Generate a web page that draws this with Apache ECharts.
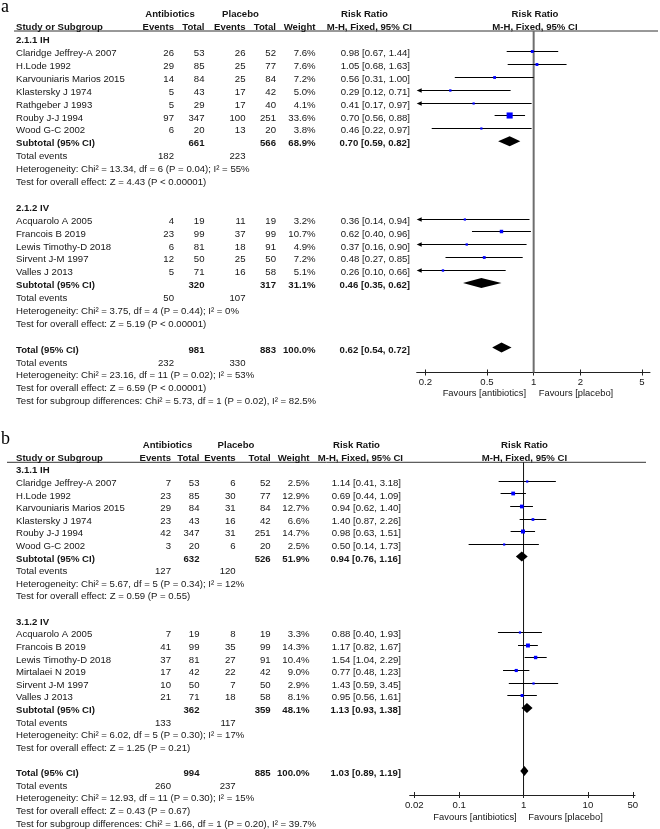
<!DOCTYPE html>
<html><head><meta charset="utf-8">
<script src="https://cdn.jsdelivr.net/npm/echarts@6/dist/echarts.min.js"></script>
<style>html,body{margin:0;padding:0;background:#fff}#c{width:660px;height:829px}</style>
</head><body><div id="c"></div>
<script>
// ================= DATA: panel a =================
const aGroupNames = ['2.1.1 IH', '2.1.2 IV'];
const a1Studies = ['Claridge Jeffrey-A 2007','H.Lode 1992','Karvouniaris Marios 2015','Klastersky J 1974','Rathgeber J 1993','Rouby J-J 1994','Wood G-C 2002'];
const a1AbxEvents = [26, 29, 14, 5, 5, 97, 6];
const a1AbxTotal  = [53, 85, 84, 43, 29, 347, 20];
const a1PlaEvents = [26, 25, 25, 17, 17, 100, 13];
const a1PlaTotal  = [52, 77, 84, 42, 40, 251, 20];
const a1Weight    = [7.6, 7.6, 7.2, 5.0, 4.1, 33.6, 3.8];
const a1RR        = [0.98, 1.05, 0.56, 0.29, 0.41, 0.70, 0.46];
const a1Low       = [0.67, 0.68, 0.31, 0.12, 0.17, 0.56, 0.22];
const a1High      = [1.44, 1.63, 1.00, 0.71, 0.97, 0.88, 0.97];

const a2Studies = ['Acquarolo A 2005','Francois B 2019','Lewis Timothy-D 2018','Sirvent J-M 1997','Valles J 2013'];
const a2AbxEvents = [4, 23, 6, 12, 5];
const a2AbxTotal  = [19, 99, 81, 50, 71];
const a2PlaEvents = [11, 37, 18, 25, 16];
const a2PlaTotal  = [19, 99, 91, 50, 58];
const a2Weight    = [3.2, 10.7, 4.9, 7.2, 5.1];
const a2RR        = [0.36, 0.62, 0.37, 0.48, 0.26];
const a2Low       = [0.14, 0.40, 0.16, 0.27, 0.10];
const a2High      = [0.94, 0.96, 0.90, 0.85, 0.66];

const aSubAbxTotal  = [661, 320];
const aSubPlaTotal  = [566, 317];
const aSubWeight    = [68.9, 31.1];
const aSubRR        = [0.70, 0.46];
const aSubLow       = [0.59, 0.35];
const aSubHigh      = [0.82, 0.62];
const aSubAbxEvents = [182, 50];
const aSubPlaEvents = [223, 107];
const aSubHet  = ['Heterogeneity: Chi² = 13.34, df = 6 (P = 0.04); I² = 55%', 'Heterogeneity: Chi² = 3.75, df = 4 (P = 0.44); I² = 0%'];
const aSubTest = ['Test for overall effect: Z = 4.43 (P < 0.00001)', 'Test for overall effect: Z = 5.19 (P < 0.00001)'];

const aTotalValues = [981, 883, 100.0, 0.62, 0.54, 0.72]; // abxTotal, plaTotal, weight, RR, low, high
const aTotalEvents = [232, 330];
const aTotalHet  = 'Heterogeneity: Chi² = 23.16, df = 11 (P = 0.02); I² = 53%';
const aTotalTest = 'Test for overall effect: Z = 6.59 (P < 0.00001)';
const aSubgroupTest = 'Test for subgroup differences: Chi² = 5.73, df = 1 (P = 0.02), I² = 82.5%';
const aTicks = [0.2, 0.5, 1, 2, 5];

// ================= DATA: panel b =================
const bGroupNames = ['3.1.1 IH', '3.1.2 IV'];
const b1Studies = ['Claridge Jeffrey-A 2007','H.Lode 1992','Karvouniaris Marios 2015','Klastersky J 1974','Rouby J-J 1994','Wood G-C 2002'];
const b1AbxEvents = [7, 23, 29, 23, 42, 3];
const b1AbxTotal  = [53, 85, 84, 43, 347, 20];
const b1PlaEvents = [6, 30, 31, 16, 31, 6];
const b1PlaTotal  = [52, 77, 84, 42, 251, 20];
const b1Weight    = [2.5, 12.9, 12.7, 6.6, 14.7, 2.5];
const b1RR        = [1.14, 0.69, 0.94, 1.40, 0.98, 0.50];
const b1Low       = [0.41, 0.44, 0.62, 0.87, 0.63, 0.14];
const b1High      = [3.18, 1.09, 1.40, 2.26, 1.51, 1.73];

const b2Studies = ['Acquarolo A 2005','Francois B 2019','Lewis Timothy-D 2018','Mirtalaei N 2019','Sirvent J-M 1997','Valles J 2013'];
const b2AbxEvents = [7, 41, 37, 17, 10, 21];
const b2AbxTotal  = [19, 99, 81, 42, 50, 71];
const b2PlaEvents = [8, 35, 27, 22, 7, 18];
const b2PlaTotal  = [19, 99, 91, 42, 50, 58];
const b2Weight    = [3.3, 14.3, 10.4, 9.0, 2.9, 8.1];
const b2RR        = [0.88, 1.17, 1.54, 0.77, 1.43, 0.95];
const b2Low       = [0.40, 0.82, 1.04, 0.48, 0.59, 0.56];
const b2High      = [1.93, 1.67, 2.29, 1.23, 3.45, 1.61];

const bSubAbxTotal  = [632, 362];
const bSubPlaTotal  = [526, 359];
const bSubWeight    = [51.9, 48.1];
const bSubRR        = [0.94, 1.13];
const bSubLow       = [0.76, 0.93];
const bSubHigh      = [1.16, 1.38];
const bSubAbxEvents = [127, 133];
const bSubPlaEvents = [120, 117];
const bSubHet  = ['Heterogeneity: Chi² = 5.67, df = 5 (P = 0.34); I² = 12%', 'Heterogeneity: Chi² = 6.02, df = 5 (P = 0.30); I² = 17%'];
const bSubTest = ['Test for overall effect: Z = 0.59 (P = 0.55)', 'Test for overall effect: Z = 1.25 (P = 0.21)'];

const bTotalValues = [994, 885, 100.0, 1.03, 0.89, 1.19];
const bTotalEvents = [260, 237];
const bTotalHet  = 'Heterogeneity: Chi² = 12.93, df = 11 (P = 0.30); I² = 15%';
const bTotalTest = 'Test for overall effect: Z = 0.43 (P = 0.67)';
const bSubgroupTest = 'Test for subgroup differences: Chi² = 1.66, df = 1 (P = 0.20), I² = 39.7%';
const bTicks = [0.02, 0.1, 1, 10, 50];

// ================= LAYOUT =================
const FS = 9.6;
const FAM = '"Liberation Sans", Arial, Helvetica, sans-serif';
const TEXT_DY = 2.5;
const TXT = '#161616';

const aLayout = {
  grid: {left: 416.7, top: 31, width: 233.3, height: 341.5},
  xMin: 0.176, xMax: 5.63, yMin: -0.55, yMax: 25.94,
  cols: {name: 16, ev1: 174, tot1: 204.5, ev2: 245.5, tot2: 276, wt: 315.5, rr: 410,
         hdrAbx: 170, hdrPla: 240.5, rrHdrL: 341, rrHdrR: 412, plotHdr: 535},
  refColor: '#6e6e6e', refWidth: 2,
  rule: [14, 658],
  favY: 393, favLeftEnd: 526, favRightStart: 538.7,
  label: 'a', labelY: 7.5
};
const bLayout = {
  grid: {left: 409.7, top: 462.3, width: 225.3, height: 332.7},
  xMin: 0.017, xMax: 54, yMin: -0.46, yMax: 25.9,
  cols: {name: 16, ev1: 171, tot1: 199.5, ev2: 235.7, tot2: 270.7, wt: 309.5, rr: 401,
         hdrAbx: 167.5, hdrPla: 236, rrHdrL: 333, rrHdrR: 403, plotHdr: 524.5},
  refColor: '#111', refWidth: 1,
  rule: [7, 646],
  favY: 817.3, favLeftEnd: 516.7, favRightStart: 528.3,
  label: 'b', labelY: 439
};

function ci(r, l, h) { return r.toFixed(2) + ' [' + l.toFixed(2) + ', ' + h.toFixed(2) + ']'; }

function buildPanel(groups, totalVals, totalEv, totalHet, totalTest, subgroupTest, C) {
  const texts = [], studies = [], diamonds = [];
  const push = (row, x, text, align, bold) => texts.push({row, x, text: String(text), align, bold});
  push(-2, C.hdrAbx, 'Antibiotics', 'center', true);
  push(-2, C.hdrPla, 'Placebo', 'center', true);
  push(-2, C.rrHdrL, 'Risk Ratio', 'left', true);
  push(-2, C.plotHdr, 'Risk Ratio', 'center', true);
  push(-1, C.name, 'Study or Subgroup', 'left', true);
  push(-1, C.ev1, 'Events', 'right', true);
  push(-1, C.tot1, 'Total', 'right', true);
  push(-1, C.ev2, 'Events', 'right', true);
  push(-1, C.tot2, 'Total', 'right', true);
  push(-1, C.wt, 'Weight', 'right', true);
  push(-1, C.rrHdrR, 'M-H, Fixed, 95% CI', 'right', true);
  push(-1, C.plotHdr, 'M-H, Fixed, 95% CI', 'center', true);
  let r = 0;
  groups.forEach(g => {
    push(r, C.name, g.name, 'left', true);
    g.studies.forEach((s, i) => {
      const row = r + 1 + i;
      push(row, C.name, s, 'left', false);
      push(row, C.ev1, g.abxE[i], 'right', false);
      push(row, C.tot1, g.abxT[i], 'right', false);
      push(row, C.ev2, g.plaE[i], 'right', false);
      push(row, C.tot2, g.plaT[i], 'right', false);
      push(row, C.wt, g.w[i].toFixed(1) + '%', 'right', false);
      push(row, C.rr, ci(g.rr[i], g.lo[i], g.hi[i]), 'right', false);
      studies.push([g.rr[i], row, g.lo[i], g.hi[i], g.w[i]]);
    });
    const sr = r + g.studies.length + 1;
    push(sr, C.name, 'Subtotal (95% CI)', 'left', true);
    push(sr, C.tot1, g.subAbxT, 'right', true);
    push(sr, C.tot2, g.subPlaT, 'right', true);
    push(sr, C.wt, g.subW.toFixed(1) + '%', 'right', true);
    push(sr, C.rr, ci(g.subRR, g.subLo, g.subHi), 'right', true);
    diamonds.push([g.subRR, sr, g.subLo, g.subHi]);
    push(sr + 1, C.name, 'Total events', 'left', false);
    push(sr + 1, C.ev1, g.subAbxE, 'right', false);
    push(sr + 1, C.ev2, g.subPlaE, 'right', false);
    push(sr + 2, C.name, g.het, 'left', false);
    push(sr + 3, C.name, g.test, 'left', false);
    r = sr + 5;
  });
  push(r, C.name, 'Total (95% CI)', 'left', true);
  push(r, C.tot1, totalVals[0], 'right', true);
  push(r, C.tot2, totalVals[1], 'right', true);
  push(r, C.wt, totalVals[2].toFixed(1) + '%', 'right', true);
  push(r, C.rr, ci(totalVals[3], totalVals[4], totalVals[5]), 'right', true);
  diamonds.push([totalVals[3], r, totalVals[4], totalVals[5]]);
  push(r + 1, C.name, 'Total events', 'left', false);
  push(r + 1, C.ev1, totalEv[0], 'right', false);
  push(r + 1, C.ev2, totalEv[1], 'right', false);
  push(r + 2, C.name, totalHet, 'left', false);
  push(r + 3, C.name, totalTest, 'left', false);
  push(r + 4, C.name, subgroupTest, 'left', false);
  return {texts, studies, diamonds};
}

function grp(name, studies, abxE, abxT, plaE, plaT, w, rr, lo, hi, subArr, i, het, test) {
  return {name, studies, abxE, abxT, plaE, plaT, w, rr, lo, hi,
    subAbxT: subArr[0][i], subPlaT: subArr[1][i], subW: subArr[2][i], subRR: subArr[3][i],
    subLo: subArr[4][i], subHi: subArr[5][i], subAbxE: subArr[6][i], subPlaE: subArr[7][i], het, test};
}
const aSubs = [aSubAbxTotal, aSubPlaTotal, aSubWeight, aSubRR, aSubLow, aSubHigh, aSubAbxEvents, aSubPlaEvents];
const bSubs = [bSubAbxTotal, bSubPlaTotal, bSubWeight, bSubRR, bSubLow, bSubHigh, bSubAbxEvents, bSubPlaEvents];

const panelA = buildPanel([
  grp(aGroupNames[0], a1Studies, a1AbxEvents, a1AbxTotal, a1PlaEvents, a1PlaTotal, a1Weight, a1RR, a1Low, a1High, aSubs, 0, aSubHet[0], aSubTest[0]),
  grp(aGroupNames[1], a2Studies, a2AbxEvents, a2AbxTotal, a2PlaEvents, a2PlaTotal, a2Weight, a2RR, a2Low, a2High, aSubs, 1, aSubHet[1], aSubTest[1])
], aTotalValues, aTotalEvents, aTotalHet, aTotalTest, aSubgroupTest, aLayout.cols);

const panelB = buildPanel([
  grp(bGroupNames[0], b1Studies, b1AbxEvents, b1AbxTotal, b1PlaEvents, b1PlaTotal, b1Weight, b1RR, b1Low, b1High, bSubs, 0, bSubHet[0], bSubTest[0]),
  grp(bGroupNames[1], b2Studies, b2AbxEvents, b2AbxTotal, b2PlaEvents, b2PlaTotal, b2Weight, b2RR, b2Low, b2High, bSubs, 1, bSubHet[1], bSubTest[1])
], bTotalValues, bTotalEvents, bTotalHet, bTotalTest, bSubgroupTest, bLayout.cols);

// ================= RENDERERS =================
function studyRender(params, api) {
  const row = api.value(1);
  const c = api.coord([api.value(0), row]);
  const y = Math.round(c[1]) + 0.5;
  const cs = params.coordSys;
  const xMin = cs.x, xMax = cs.x + cs.width;
  let xl = api.coord([api.value(2), row])[0];
  let xh = api.coord([api.value(3), row])[0];
  const clipL = xl < xMin, clipR = xh > xMax;
  xl = Math.max(xl, xMin); xh = Math.min(xh, xMax);
  const ch = [];
  ch.push({type: 'line', shape: {x1: clipL ? xMin + 3 : xl, y1: y, x2: clipR ? xMax - 3 : xh, y2: y},
           style: {stroke: '#000', lineWidth: 1}});
  if (clipL) ch.push({type: 'polygon', shape: {points: [[xMin, y], [xMin + 5, y - 2.3], [xMin + 5, y + 2.3]]}, style: {fill: '#000'}});
  if (clipR) ch.push({type: 'polygon', shape: {points: [[xMax, y], [xMax - 5, y - 2.3], [xMax - 5, y + 2.3]]}, style: {fill: '#000'}});
  const s = Math.max(2.2, Math.sqrt(api.value(4)) * 1.05);
  ch.push({type: 'rect', shape: {x: c[0] - s / 2, y: y - s / 2, width: s, height: s}, style: {fill: '#0000ff'}});
  return {type: 'group', children: ch};
}
function diamondRender(params, api) {
  const row = api.value(1);
  const c = api.coord([api.value(0), row]);
  const l = api.coord([api.value(2), row]);
  const h = api.coord([api.value(3), row]);
  const y = c[1];
  return {type: 'polygon', shape: {points: [[l[0], y], [c[0], y - 5], [h[0], y], [c[0], y + 5]]}, style: {fill: '#000'}};
}
function textRenderer(items) {
  return function (params, api) {
    const t = items[params.dataIndex];
    const y = api.coord([1, api.value(1)])[1] + TEXT_DY;
    return {type: 'text', x: t.x, y: y, style: {
      text: t.text, font: (t.bold ? 'bold ' : '') + FS + 'px ' + FAM, fill: TXT,
      align: t.align, verticalAlign: 'middle', textAlign: t.align, textVerticalAlign: 'middle'}};
  };
}

function axes(L, ticks, gi) {
  const common = {
    type: 'log', gridIndex: gi, min: L.xMin, max: L.xMax, logBase: 10, position: 'bottom',
    splitLine: {show: false}, minorTick: {show: false}
  };
  return [
    Object.assign({}, common, {
      axisLine: {show: true, onZero: false, lineStyle: {color: '#222', width: 1}},
      axisTick: {show: true, length: 3, inside: false, customValues: ticks, lineStyle: {color: '#222'}},
      axisLabel: {show: true, customValues: ticks, margin: 5, color: TXT, fontSize: FS, fontFamily: FAM,
                  formatter: v => String(+(+v).toPrecision(3))}
    }),
    Object.assign({}, common, {
      axisLine: {show: false, onZero: false},
      axisTick: {show: true, length: 3, inside: true, customValues: ticks, lineStyle: {color: '#222'}},
      axisLabel: {show: false, customValues: ticks}
    })
  ];
}

function panelSeries(P, L, xi, yi) {
  return [
    {type: 'line', xAxisIndex: xi, yAxisIndex: yi, data: [[1, L.yMin], [1, L.yMax]], symbol: 'none',
     lineStyle: {color: L.refColor, width: L.refWidth}, z: 1, silent: true},
    {type: 'custom', xAxisIndex: xi, yAxisIndex: yi, renderItem: studyRender, z: 3,
     dimensions: ['x', 'y', 'lo', 'hi', 'w'], encode: {x: 0, y: 1}, data: P.studies},
    {type: 'custom', xAxisIndex: xi, yAxisIndex: yi, renderItem: diamondRender, z: 3,
     dimensions: ['x', 'y', 'lo', 'hi'], encode: {x: 0, y: 1}, data: P.diamonds},
    {type: 'custom', xAxisIndex: xi, yAxisIndex: yi, renderItem: textRenderer(P.texts), z: 4, clip: false,
     dimensions: ['x', 'y'], encode: {x: 0, y: 1}, data: P.texts.map(t => [1, t.row])}
  ];
}

function panelGraphics(L) {
  const y = L.grid.top;
  return [
    {type: 'line', shape: {x1: L.rule[0], y1: y, x2: L.rule[1], y2: y}, style: {stroke: '#333', lineWidth: 1}},
    {type: 'text', x: 1, y: L.labelY, style: {text: L.label, font: '18px "Liberation Serif", "Times New Roman", serif', fill: '#000',
      align: 'left', verticalAlign: 'middle', textAlign: 'left', textVerticalAlign: 'middle'}},
    {type: 'text', x: L.favLeftEnd, y: L.favY, style: {text: 'Favours [antibiotics]', font: '9.4px ' + FAM, fill: TXT,
      align: 'right', verticalAlign: 'middle', textAlign: 'right', textVerticalAlign: 'middle'}},
    {type: 'text', x: L.favRightStart, y: L.favY, style: {text: 'Favours [placebo]', font: '9.4px ' + FAM, fill: TXT,
      align: 'left', verticalAlign: 'middle', textAlign: 'left', textVerticalAlign: 'middle'}}
  ];
}

const chart = echarts.init(document.getElementById('c'), null, {renderer: 'canvas'});
chart.setOption({
  animation: false,
  backgroundColor: '#fff',
  grid: [Object.assign({}, aLayout.grid), Object.assign({}, bLayout.grid)],
  xAxis: axes(aLayout, aTicks, 0).concat(axes(bLayout, bTicks, 1)),
  yAxis: [
    {type: 'value', gridIndex: 0, inverse: true, min: aLayout.yMin, max: aLayout.yMax, show: false},
    {type: 'value', gridIndex: 1, inverse: true, min: bLayout.yMin, max: bLayout.yMax, show: false}
  ],
  series: panelSeries(panelA, aLayout, 0, 0).concat(panelSeries(panelB, bLayout, 2, 1)),
  graphic: panelGraphics(aLayout).concat(panelGraphics(bLayout))
});
</script>
</body></html>
